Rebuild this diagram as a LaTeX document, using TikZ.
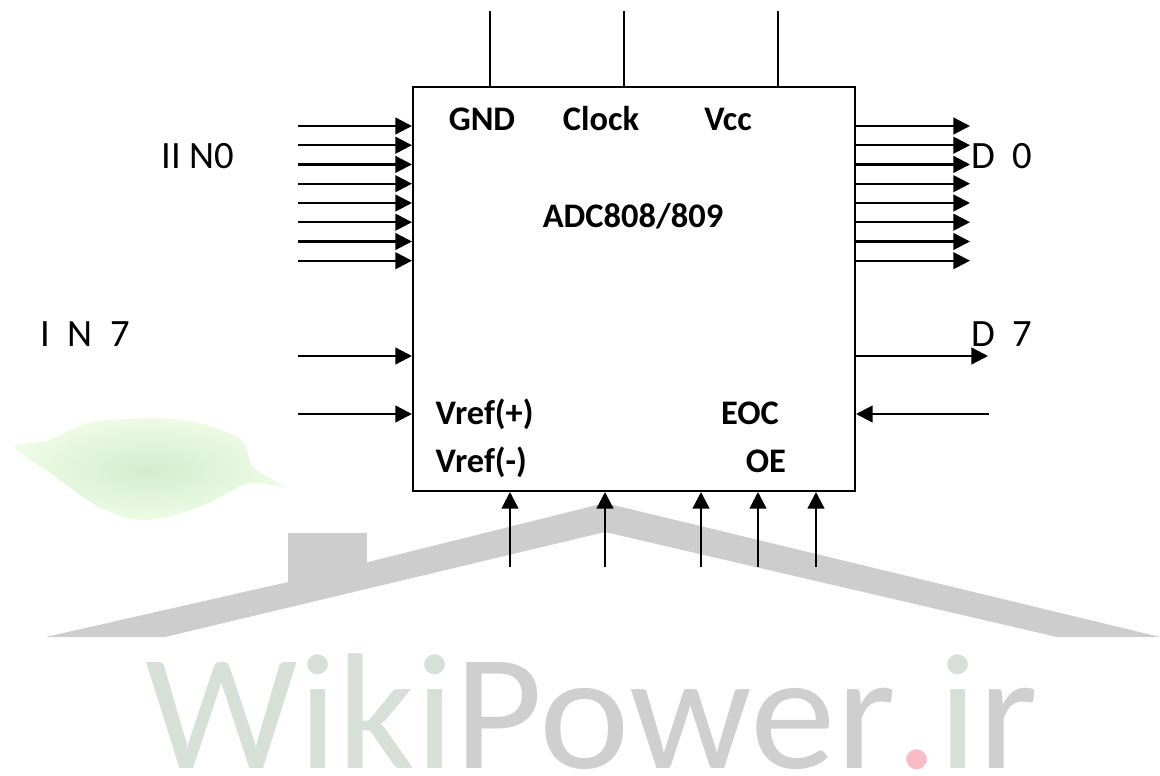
\documentclass[tikz,border=0pt]{standalone}
\usepackage{fontspec}
\usepackage{tikz}
\usetikzlibrary{arrows.meta}
\setmainfont{Carlito}

\definecolor{roofgray}{HTML}{CDCDCD}
\definecolor{wmgreen}{HTML}{D6E0D6}
\definecolor{wmgray}{HTML}{CFCFCF}
\definecolor{wmpink}{HTML}{F9BCC6}
\definecolor{leafpale}{HTML}{EEFBE6}
\definecolor{leafdark}{HTML}{D2EDCC}

\tikzset{
    pinarrow/.style={line width=0.65pt, -{Triangle[length=4.7pt,width=4.7pt]}},
    pinline/.style={line width=0.45pt},
    pinlabel/.style={font=\fontsize{9.8pt}{11pt}\selectfont\bfseries, inner sep=0pt, anchor=base},
    buslabel/.style={font=\fontsize{11pt}{13pt}\selectfont, inner sep=0pt, anchor=base west}
}

\begin{document}
\begin{tikzpicture}[x=0.01cm,y=-0.01cm]
    \useasboundingbox (0,0) rectangle (1160,776);

    % Watermark leaf
    \shade[inner color=leafdark, outer color=leafpale] plot[smooth cycle, tension=0.55] coordinates {(15,447) (50,440) (88,423) (153,418) (199,423) (241,440) (253,467) (283,487) (249,483) (199,507) (145,520) (99,507) (46,470)};

    % Watermark roof and chimney
    \fill[roofgray] (288,533) rectangle (367,584);
    \fill[roofgray] (46,637) -- (288,582) -- (605,503) -- (1160,637) -- (1057,637) -- (605,532) -- (165,637) -- cycle;

    % Watermark text
    \node[anchor=base west, inner sep=0pt, font=\fontsize{47pt}{50pt}\selectfont] (wikipower) at (145,768)
        {\scalebox{1.037}[1]{\textcolor{wmgreen}{Wiki}\textcolor{wmgray}{Power}\textcolor{wmpink}{.}\textcolor{wmgreen}{i}\textcolor{wmgray}{r}}};

    % Main block
    \node[draw, line width=0.5pt, minimum width=4.42cm, minimum height=4.04cm, inner sep=0pt] (adc) at (634,289) {};

    % Labels inside the block
    \node[pinlabel] (gnd) at (482,131) {GND};
    \node[pinlabel] (clock) at (601,131) {Clock};
    \node[pinlabel] (vcc) at (728,131) {Vcc};
    \node[pinlabel] (title) at (633,228) {ADC808/809};
    \node[pinlabel, anchor=base west] (vrefp) at (435,424) {Vref(+)};
    \node[pinlabel, anchor=base west] (vrefm) at (435,472) {Vref(-)};
    \node[pinlabel] (eoc) at (750,424) {EOC};
    \node[pinlabel] (oe) at (766,472) {OE};

    % Bus labels
    \node[buslabel] (in0) at (161,169) {II N0};
    \node[buslabel] (in7) at (40,347) {I\ \ N\ \ 7};
    \node[buslabel] (d0) at (971,169) {D\ \ 0};
    \node[buslabel] (d7) at (971,347) {D\ \ 7};

    % Supply lines on top
    \foreach \x/\name in {490/gndpin,624/clockpin,778/vccpin} {
        \coordinate (\name) at (\x,11);
        \draw[pinline] (\name) -- (\name |- adc.north);
    }

    % Eight inputs and eight outputs
    \foreach \i/\y in {0/126,1/145.2,2/164.4,3/183.7,4/203,5/222.2,6/241.5,7/260.7} {
        \coordinate (inpin\i) at (298,\y);
        \coordinate (outpin\i) at (970,\y);
        \draw[pinarrow] (inpin\i) -- (inpin\i -| adc.west);
        \draw[pinarrow] (outpin\i -| adc.east) -- (outpin\i);
    }

    % Single pins on the sides
    \coordinate (leftmid) at (298,356);
    \coordinate (leftref) at (298,414);
    \coordinate (rightmid) at (988,356);
    \coordinate (righteoc) at (989,414);
    \draw[pinarrow] (leftmid) -- (leftmid -| adc.west);
    \draw[pinarrow] (leftref) -- (leftref -| adc.west);
    \draw[pinarrow] (rightmid -| adc.east) -- (rightmid);
    \draw[pinarrow] (righteoc) -- (righteoc -| adc.east);

    % Pins along the bottom
    \foreach \x in {510,605,701,758,816} {
        \coordinate (botpin\x) at (\x,567);
        \draw[pinarrow] (botpin\x) -- (botpin\x |- adc.south);
    }
\end{tikzpicture}
\end{document}
